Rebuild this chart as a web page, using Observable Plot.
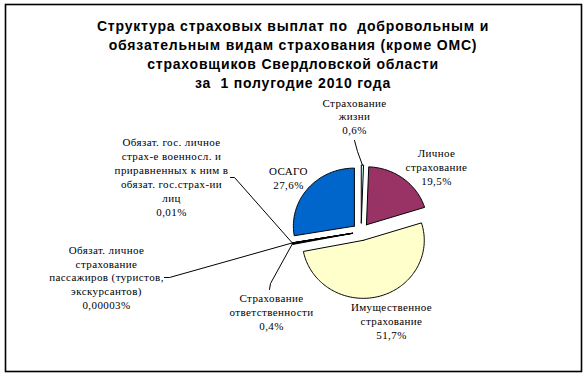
<!DOCTYPE html>
<html>
<head>
<meta charset="utf-8">
<script src="https://cdn.jsdelivr.net/npm/d3@7"></script>
<script src="https://cdn.jsdelivr.net/npm/@observablehq/plot@0.6"></script>
<style>
  html, body { margin: 0; padding: 0; background: #fff; }
  #chart svg { display: block; }
  #chart g[font-weight="bold"] { letter-spacing: 0.8px; }
  #chart g[font-family="Liberation Serif"] { letter-spacing: 0.4px; }
</style>
</head>
<body>
<div id="chart"></div>
<script>
// ---- data ----
const titleText = "Структура страховых выплат по  добровольным и\nобязательным видам страхования (кроме ОМС)\nстраховщиков Свердловской области\nза  1 полугодие 2010 года";
const categories = [
  "Страхование\nжизни",
  "Личное\nстрахование",
  "Имущественное\nстрахование",
  "Страхование\nответственности",
  "Обязат. личное\nстрахование\nпассажиров (туристов,\nэкскурсантов)",
  "Обязат. гос. личное\nстрах-е военносл. и\nприравненных к ним в\nобязат. гос.страх-ии\nлиц",
  "ОСАГО"
];
const values = [0.6, 19.5, 51.7, 0.4, 0.00003, 0.01, 27.6];
const valueLabels = ["0,6%", "19,5%", "51,7%", "0,4%", "0,00003%", "0,01%", "27,6%"];
const sliceColors = ["#CCFFFF", "#993366", "#FFFFCC", "#000000", "#FFFFFF", "#FFFFFF", "#0066CC"];

// ---- layout (pixels) ----
const W = 585, H = 376;
const CX = 360.6, CY = 231.3, RX = 61, RY = 58, EXPLODE = 8.8;
const labelPos = [[354, 115.5], [436, 166], [391, 320], [271, 311], [106, 276.5], [171, 176], [288, 177]];
// leader polylines from label toward slice (slice end point added from geometry)
const leaderFrom = [
  [[354, 140], [357, 151]],
  null,
  null,
  [[269, 289], [270, 283]],
  [[164, 277], [169, 277]],
  [[230, 177], [234, 177]],
  null
];

// ---- geometry from data ----
const arcs = d3.pie().sort(null).value(d => d).startAngle(0).endAngle(2 * Math.PI)(values);
const slicePts = [];
const arcMid = [];
arcs.forEach((a, i) => {
  const mid = (a.startAngle + a.endAngle) / 2;
  const vx = CX + EXPLODE * Math.sin(mid), vy = CY - EXPLODE * Math.cos(mid);
  arcMid.push({x: vx + RX * Math.sin(mid), y: vy - RY * Math.cos(mid)});
  slicePts.push({i, x: vx, y: vy});
  const n = Math.max(2, Math.ceil((a.endAngle - a.startAngle) / (Math.PI / 120)));
  for (let k = 0; k <= n; k++) {
    const ang = a.startAngle + (a.endAngle - a.startAngle) * k / n;
    slicePts.push({i, x: vx + RX * Math.sin(ang), y: vy - RY * Math.cos(ang)});
  }
  slicePts.push({i, x: vx, y: vy});
});

const leaderPts = [];
leaderFrom.forEach((pts, i) => {
  if (!pts) return;
  pts.forEach(p => leaderPts.push({i, x: p[0], y: p[1]}));
  leaderPts.push({i, x: arcMid[i].x, y: arcMid[i].y});
});

const labels = categories.map((c, i) => ({
  text: c + "\n" + valueLabels[i],
  x: labelPos[i][0], y: labelPos[i][1]
}));

const chart = Plot.plot({
  width: W, height: H,
  margin: 0,
  x: {domain: [0, W], range: [0, W], axis: null},
  y: {domain: [0, H], range: [0, H], axis: null},
  color: {type: "identity"},
  style: {background: "#fff", overflow: "visible"},
  marks: [
    Plot.frame({insetLeft: 5, insetTop: 4, insetRight: 4, insetBottom: 5, stroke: "#000", strokeWidth: 1.6}),
    Plot.line(slicePts, {x: "x", y: "y", z: "i", fill: d => sliceColors[d.i], stroke: "#000", strokeWidth: 1, strokeLinejoin: "miter", curve: "linear"}),
    Plot.line(leaderPts, {x: "x", y: "y", z: "i", stroke: "#000", strokeWidth: 1, curve: "linear"}),
    Plot.text(labels, {x: "x", y: "y", text: "text", textAnchor: "middle", lineAnchor: "middle",
      fontFamily: "Liberation Serif", fontSize: 11, lineHeight: 1.27, fill: "#000"}),
    Plot.text([titleText], {frameAnchor: "top", dy: 17, lineAnchor: "top", text: d => d,
      fontFamily: "Liberation Sans", fontWeight: "bold", fontSize: 14, lineHeight: 1.357, fill: "#000"})
  ]
});
document.getElementById("chart").appendChild(chart);
</script>
</body>
</html>
